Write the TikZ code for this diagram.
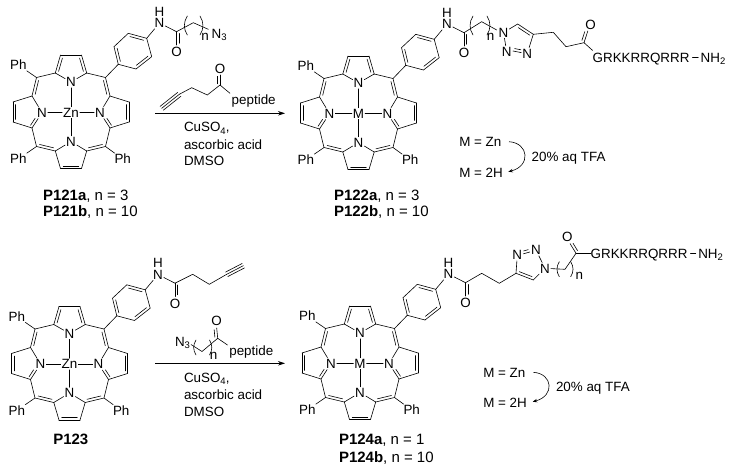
\documentclass[tikz,border=0pt]{standalone}
\usepackage{fontspec}
\setmainfont{Liberation Sans}
\usetikzlibrary{calc,arrows.meta}
\tikzset{
  chem/.style={line width=0.6pt,line cap=round,line join=round},
  atom/.style={inner sep=1pt,outer sep=0pt,text height=9.6pt,text depth=0pt,font=\fontsize{13.4}{16}\selectfont},
  lab/.style={atom,anchor=west,inner sep=0pt},
  captn/.style={lab,text height=10.7pt,font=\fontsize{15}{18}\selectfont},
  rxnarrow/.style={line width=0.7pt,-{Stealth[length=7pt,width=4.5pt]}},
  curvearrow/.style={line width=0.6pt,-{Stealth[length=4.5pt,width=3.5pt]}},
}
\newcommand\sbs[1]{\raisebox{-2.4pt}{\fontsize{9.5}{10}\selectfont #1}}
% double bond: main line plus a shortened parallel one on the given side
\newcommand\dbl[3]{\draw[chem] #1 -- #2; \draw[chem] ($#1!.13!#2!2.7pt!#3:#2$) -- ($#2!.13!#1!2.7pt!-#3:#1$);}
\newcommand\tpl[2]{\draw[chem] #1 -- #2; \draw[chem] ($#1!0!#2!2.5pt!90:#2$) -- ($#2!0!#1!2.5pt!-90:#1$); \draw[chem] ($#1!0!#2!2.5pt!-90:#2$) -- ($#2!0!#1!2.5pt!90:#1$);}
\newcommand\parens[4]{\draw[chem] (#1,#3) to[bend right=32] (#1,#4); \draw[chem] (#2,#3) to[bend left=32] (#2,#4);}
% porphyrin with aryl amide, centre at (#1,#2), metal #3
\newcommand\porph[3]{%
\begin{scope}[shift={(#1,#2)}]
  \node[atom] (m) at (0,0.5) {#3};
  \node[atom] (nt) at (0,-30) {N};
  \node[atom] (nb) at (0,29.5) {N};
  \node[atom] (nl) at (-29,0.5) {N};
  \node[atom] (nr) at (29,0.5) {N};
  \node[atom] (ph1) at (-52.7,-47) {Ph};
  \node[atom] (ph2) at (-52.7,47) {Ph};
  \node[atom] (ph3) at (51.7,47) {Ph};
  \node[atom] (amn) at (88.5,-89) {N};
  \node[atom,inner sep=0pt] (amh) at (88.5,-100.4) {H};
  \node[atom] (amo) at (105.5,-60) {O};
  \coordinate (mtl) at (-34.5,-34.5); \coordinate (mtr) at (34.5,-34.5);
  \coordinate (mbl) at (-34.5,34.5); \coordinate (mbr) at (34.5,34.5);
  \coordinate (atl) at (-15.7,-39); \coordinate (atr) at (15.7,-39);
  \coordinate (btl) at (-10.5,-57); \coordinate (btr) at (10.5,-57);
  \coordinate (abl) at (-15.7,39); \coordinate (abr) at (15.7,39);
  \coordinate (bbl) at (-10.5,56.5); \coordinate (bbr) at (10.5,56.5);
  \coordinate (alt) at (-39,-16); \coordinate (alb) at (-39,16);
  \coordinate (art) at (39,-16); \coordinate (arb) at (39,16);
  \coordinate (blt) at (-58,-10); \coordinate (blb) at (-58,10);
  \coordinate (brt) at (58,-10); \coordinate (brb) at (58,10);
  \coordinate (r1) at (47.3,-47.7); \coordinate (r2) at (43,-65.3);
  \coordinate (r3) at (57.3,-78.7); \coordinate (r4) at (75.7,-73.7);
  \coordinate (r5) at (80.7,-55.3); \coordinate (r6) at (65,-43);
  \coordinate (amc) at (105.5,-80.3);
  \draw[chem] (m) -- (nt); \draw[chem] (m) -- (nb); \draw[chem] (m) -- (nl); \draw[chem] (m) -- (nr);
  \draw[chem] (atl) -- (nt); \draw[chem] (atr) -- (nt); \draw[chem] (abl) -- (nb); \draw[chem] (abr) -- (nb);
  \draw[chem] (alt) -- (nl); \draw[chem] (art) -- (nr);
  \draw[chem] (mtl) -- (atl); \draw[chem] (mtr) -- (atr);
  \draw[chem] (mbl) -- (alb); \draw[chem] (mbr) -- (arb);
  \draw[chem] (btl) -- (btr); \draw[chem] (alt) -- (blt); \draw[chem] (alb) -- (blb);
  \draw[chem] (art) -- (brt); \draw[chem] (arb) -- (brb);
  \draw[chem] (abl) -- (bbl); \draw[chem] (abr) -- (bbr);
  \dbl{(atl)}{(btl)}{-90}
  \dbl{(atr)}{(btr)}{90}
  \dbl{(mtl)}{(alt)}{90}
  \dbl{(mtr)}{(art)}{-90}
  \dbl{(blt)}{(blb)}{90}
  \dbl{(brt)}{(brb)}{-90}
  \dbl{(alb)}{(-32.8,6.5)}{90}
  \dbl{(arb)}{(32.8,6.5)}{-90}
  \dbl{(mbl)}{(abl)}{90}
  \dbl{(mbr)}{(abr)}{-90}
  \dbl{(bbl)}{(bbr)}{90}
  \draw[chem] (mtl) -- (ph1); \draw[chem] (mbl) -- (ph2); \draw[chem] (mbr) -- (ph3);
  \draw[chem] (mtr) -- (r1);
  \draw[chem] (r2) -- (r3); \draw[chem] (r4) -- (r5); \draw[chem] (r6) -- (r1);
  \dbl{(r1)}{(r2)}{-90}
  \dbl{(r3)}{(r4)}{-90}
  \dbl{(r5)}{(r6)}{-90}
  \draw[chem] (r4) -- (amn); \draw[chem] (amn) -- (amc);
  \dbl{(amc)}{(105.5,-67)}{90}
\end{scope}}
\begin{document}
\begin{tikzpicture}[x=1pt,y=-1pt]
\fill[white] (0,0) rectangle (730,472);
\useasboundingbox (0,0) rectangle (730,472);

% ---- P121
\porph{71}{112}{Zn}
\coordinate (a1) at (193.3,22.7); \coordinate (a2) at (208.3,29.3);
\node[lab] (a3) at (211.7,33.5) {N\sbs{3}};
\node[atom] (a4) at (205,36) {n};
\draw[chem] (amc) -- (a1) -- (a2);
\parens{187.3}{200}{16}{35}
\node[captn] (c1) at (43,195) {\textbf{P121a}, n = 3};
\node[captn] (c2) at (43,211.5) {\textbf{P121b}, n = 10};

% reagent 1
\coordinate (b1) at (161.7,108.3); \coordinate (b2) at (179.3,94.3);
\coordinate (b3) at (191.7,87.7); \coordinate (b4) at (207.3,95);
\coordinate (b5) at (220,85); \coordinate (b6) at (230,93.3);
\tpl{(b1)}{(b2)}
\draw[chem] (b2) -- (b3) -- (b4) -- (b5) -- (b6);
\node[atom] (b7) at (220,68.3) {O};
\dbl{(b5)}{(220,75)}{90}
\node[lab] (b8) at (231.7,100) {peptide};
\coordinate (s1) at (155,113.3); \coordinate (e1) at (285,113.3);
\draw[rxnarrow] (s1) -- (e1);
\node[lab] (b9) at (184,127) {CuSO\sbs{4},};
\node[lab] (b10) at (184,144.5) {ascorbic acid};
\node[lab] (b11) at (184,161) {DMSO};

% ---- P122
\porph{358.5}{113}{M}
\coordinate (d1) at (481.7,21.7); \coordinate (d2) at (496.7,30);
\node[atom] (d3) at (503.5,32.5) {N};
\node[atom] (d4) at (490.7,36) {n};
\parens{473}{487}{16}{35}
\draw[chem] (amc) -- (d1) -- (d2);
\coordinate (d5) at (517.7,24); \coordinate (d6) at (533.3,34.3);
\node[atom] (d7) at (527.3,53.3) {N};
\node[atom] (d8) at (506.7,51.7) {N};
\draw[chem] (d3) -- (d5);
\dbl{(d5)}{(d6)}{-90}
\draw[chem] (d6) -- (d7); \draw[chem] (d3) -- (d8);
\dbl{(513,51)}{(521.3,52.6)}{90}
\coordinate (d9) at (553.3,32.3); \coordinate (d10) at (566,46.7); \coordinate (d11) at (584,42.7);
\draw[chem] (d6) -- (d9) -- (d10) -- (d11);
\node[atom] (d12) at (590.7,25) {O};
\dbl{(d11)}{(587.8,31)}{90}
\coordinate (d13) at (592.7,50.5);
\draw[chem] (d11) -- (d13);
\node[lab] (d14) at (592.7,57.3) {GRKKRRQRRR};
\node[lab] (d15) at (700.7,57.3) {NH\sbs{2}};
\draw[chem,shorten >=2.5pt,shorten <=3pt] (d14) -- (d15);
\node[captn] (c3) at (334,195.5) {\textbf{P122a}, n = 3};
\node[captn] (c4) at (334,211.5) {\textbf{P122b}, n = 10};
\node[lab] (f1) at (459.3,141.7) {M = Zn};
\node[lab] (f2) at (459.3,172.7) {M = 2H};
\node[lab] (f3) at (531.7,156.7) {20\% aq TFA};
\coordinate (g1) at (509,141.7); \coordinate (g2) at (508.3,171.7);
\draw[curvearrow] (g1) .. controls (529,143) and (531,166) .. (g2);

% ---- P123
\porph{69.5}{363.5}{Zn}
\coordinate (h1) at (192.7,274.3); \coordinate (h2) at (209.3,284.3);
\coordinate (h3) at (226.7,274.3); \coordinate (h4) at (243.3,265.7);
\draw[chem] (amc) -- (h1) -- (h2) -- (h3);
\tpl{(h3)}{(h4)}
\node[captn] (c5) at (53.3,439) {\textbf{P123}};

% reagent 2
\node[lab] (i1) at (175,341.7) {N\sbs{3}};
\coordinate (i2) at (191,344.5); \coordinate (i3) at (202,351.5);
\coordinate (i4) at (217.7,338.3); \coordinate (i5) at (227.5,345);
\draw[chem] (i2) -- (i3) -- (i4) -- (i5);
\parens{196}{209.5}{340}{355}
\node[atom] (i6) at (213.5,355) {n};
\node[atom] (i7) at (216.7,321) {O};
\dbl{(i4)}{(216.7,328)}{90}
\node[lab] (i8) at (229.3,350.7) {peptide};
\coordinate (s2) at (155,363.3); \coordinate (e2) at (285,363.3);
\draw[rxnarrow] (s2) -- (e2);
\node[lab] (i9) at (184,377.5) {CuSO\sbs{4},};
\node[lab] (i10) at (184,394.5) {ascorbic acid};
\node[lab] (i11) at (184,412) {DMSO};

% ---- P124
\porph{360}{363}{M}
\coordinate (j1) at (481.7,273.3); \coordinate (j2) at (499.3,283.3); \coordinate (j3) at (516,273.3);
\draw[chem] (amc) -- (j1) -- (j2) -- (j3);
\node[atom] (j4) at (517.3,255) {N};
\node[atom] (j5) at (536,250) {N};
\node[atom] (j6) at (545,268.3) {N};
\coordinate (j7) at (533.3,280);
\draw[chem] (j3) -- (j4); \draw[chem] (j5) -- (j6); \draw[chem] (j6) -- (j7);
\dbl{(j3)}{(j7)}{90}
\dbl{(523.5,253.8)}{(529.8,252)}{90}
\coordinate (j8) at (565,269.3); \coordinate (j9) at (576,253.3);
\draw[chem] (j6) -- (j8) -- (j9);
\parens{559.3}{570.7}{261.7}{276.7}
\node[atom] (j10) at (579.3,275) {n};
\node[atom] (j11) at (567.3,236.7) {O};
\dbl{(j9)}{(570,243.5)}{-90}
\node[lab] (j12) at (590.7,253.3) {GRKKRRQRRR};
\node[lab] (j13) at (698.3,253.3) {NH\sbs{2}};
\draw[chem] (j9) -- (j12);
\draw[chem,shorten >=2.5pt,shorten <=3pt] (j12) -- (j13);
\node[captn] (c6) at (339,439) {\textbf{P124a}, n = 1};
\node[captn] (c7) at (339,456.7) {\textbf{P124b}, n = 10};
\node[lab] (k1) at (483.3,372.3) {M = Zn};
\node[lab] (k2) at (483.3,402.7) {M = 2H};
\node[lab] (k3) at (556,387) {20\% aq TFA};
\coordinate (l1) at (533.3,372.3); \coordinate (l2) at (532.7,401.7);
\draw[curvearrow] (l1) .. controls (553,373.5) and (555,396) .. (l2);
\end{tikzpicture}
\end{document}
